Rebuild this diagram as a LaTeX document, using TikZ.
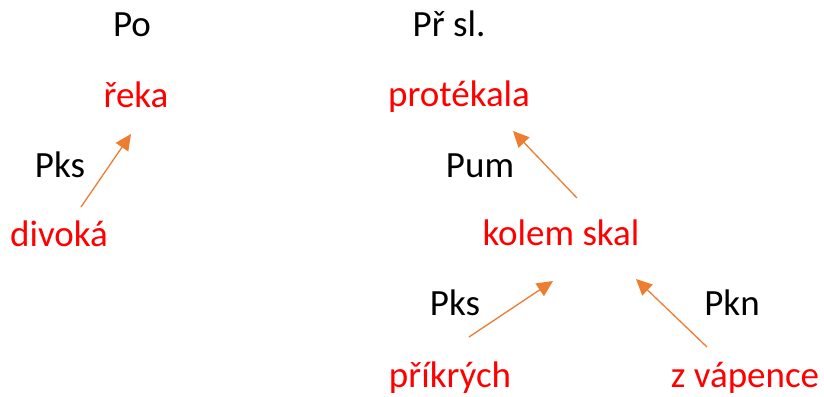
\documentclass[tikz,border=0pt]{standalone}
\usepackage{fontspec}
\setmainfont{Carlito}
\usetikzlibrary{arrows.meta,calc}
\definecolor{arrorange}{RGB}{237,125,49}
\definecolor{wordred}{RGB}{255,0,0}
\tikzset{
  lbl/.style={anchor=base,inner sep=0pt,font=\fontsize{37}{44}\selectfont},
  word/.style={lbl,text=wordred},
  arr/.style={draw=arrorange,line width=1.3pt,
    -{Triangle[length=16pt,width=15pt,fill=arrorange]}}
}
\begin{document}
\begin{tikzpicture}[x=1pt,y=-1pt]
  \useasboundingbox (0,0) rectangle (824,396);
  % headings
  \node[lbl] (po)  at (132, 37) {Po};
  \node[lbl] (prs) at (449, 37) {Př sl.};
  % left tree
  \node[word] (reka)   at (136,107) {řeka};
  \node[word] (divoka) at ( 59,246) {divoká};
  \node[lbl]  (pks1)   at ( 60,177) {Pks};
  % right tree
  \node[word] (protekala) at (459,106) {protékala};
  \node[word] (kolem)     at (561,245) {kolem skal};
  \node[word] (prikrych)  at (450,387) {příkrých};
  \node[word] (vapence)   at (745,387) {z vápence};
  \node[lbl]  (pum)       at (480,177) {Pum};
  \node[lbl]  (pks2)      at (455,315) {Pks};
  \node[lbl]  (pkn)       at (732,315) {Pkn};
  % arrows
  \draw[arr] ($(divoka.base)+(22,-39)$) -- ($(reka.base)+(-5,27)$);
  \draw[arr] ($(kolem.base)+(16,-47)$) -- ($(protekala.base)+(54,25)$);
  \draw[arr] ($(prikrych.base)+(19,-50)$) -- ($(kolem.base)+(-8,36)$);
  \draw[arr] ($(vapence.base)+(-38,-40)$) -- ($(kolem.base)+(75,34)$);
\end{tikzpicture}
\end{document}
